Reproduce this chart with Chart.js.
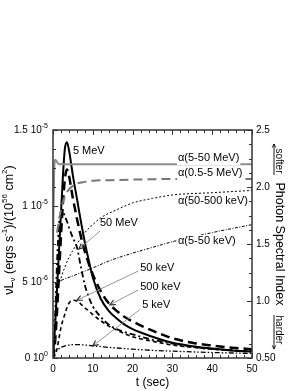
<!DOCTYPE html>
<html>
<head>
<meta charset="utf-8">
<script src="https://cdn.jsdelivr.net/npm/chart.js@4.4.0/dist/chart.umd.min.js"></script>
<style>
  html, body { margin: 0; padding: 0; background: #fff; }
</style>
</head>
<body>
<canvas id="grb" width="299" height="391"></canvas>
<script>
// time grid (sec) for the light curves
const tLight = [0, 0.5, 1, 1.5, 2, 2.5, 3, 3.5, 4, 5, 6, 7, 8, 9, 10, 12, 14, 16, 18, 20, 25, 30, 35, 40, 45, 50];

// nuLnu, in units of 1e-5 ergs s^-1 / (1e56 cm^2)
const lc5MeV   = [0, 0.2, 0.45, 0.7, 0.95, 1.2, 1.38, 1.42, 1.37, 1.2, 1.05, 0.9, 0.76, 0.64, 0.53, 0.39, 0.31, 0.26, 0.22, 0.19, 0.14, 0.1, 0.078, 0.062, 0.05, 0.042];
const lc500keV = [0, 0.1, 0.3, 0.55, 0.8, 1.02, 1.18, 1.24, 1.2, 1.05, 0.92, 0.8, 0.7, 0.62, 0.55, 0.44, 0.36, 0.31, 0.27, 0.24, 0.18, 0.13, 0.1, 0.082, 0.068, 0.058];
const lc50MeV  = [0, 0.25, 0.62, 0.88, 0.95, 0.96, 0.93, 0.9, 0.86, 0.79, 0.73, 0.6, 0.48, 0.4, 0.34, 0.27, 0.22, 0.19, 0.17, 0.155, 0.12, 0.095, 0.075, 0.06, 0.05, 0.042];
const lc50keV  = [0, 0.02, 0.06, 0.13, 0.2, 0.25, 0.29, 0.33, 0.36, 0.38, 0.375, 0.355, 0.33, 0.31, 0.285, 0.245, 0.21, 0.185, 0.16, 0.14, 0.11, 0.085, 0.07, 0.058, 0.05, 0.045];
const lc5keV   = [0, 0.03, 0.05, 0.06, 0.07, 0.075, 0.08, 0.083, 0.085, 0.088, 0.088, 0.087, 0.085, 0.083, 0.08, 0.075, 0.07, 0.066, 0.062, 0.058, 0.05, 0.045, 0.04, 0.036, 0.033, 0.03];

// photon spectral index curves (right axis)
const tAlpha5_50MeV  = [0, 0.3, 0.6, 1, 1.5, 2, 3, 5, 10, 20, 30, 40, 50];
const alpha5_50MeV   = [1.5, 2.15, 2.24, 2.22, 2.2, 2.2, 2.2, 2.2, 2.2, 2.2, 2.2, 2.2, 2.2];
const tAlpha05_5MeV  = [1, 2, 3, 4, 5, 6, 8, 10, 15, 20, 30, 40, 50];
const alpha05_5MeV   = [1.6, 1.8, 1.92, 1.98, 2.01, 2.03, 2.045, 2.055, 2.06, 2.065, 2.07, 2.07, 2.07];
const tAlpha50_500keV = [1, 2, 3, 4, 6, 8, 10, 12, 16, 20, 25, 30, 40, 50];
const alpha50_500keV  = [1.1, 1.2, 1.3, 1.38, 1.5, 1.6, 1.67, 1.73, 1.8, 1.86, 1.9, 1.93, 1.95, 1.97];
const tAlpha5_50keV  = [0.5, 2, 5, 10, 14, 20, 24, 30, 35, 40, 50];
const alpha5_50keV   = [1.15, 1.18, 1.22, 1.29, 1.35, 1.42, 1.46, 1.52, 1.56, 1.6, 1.67];

// tick labels
const leftTickValues = [0, 0.5, 1, 1.5];
const leftTickMant = ['0 10', '5 10', '1 10', '1.5 10'];
const leftTickExp = ['0', '-6', '-5', '-5'];

const FONT = "'Liberation Sans', Arial, Helvetica, sans-serif";
Chart.defaults.font.family = FONT;
Chart.defaults.color = '#000';

function pts(ts, vs) {
    return ts.map((t, i) => ({x: t, y: vs[i]}));
}

function series(data, axis, color, width, dash) {
    return {
        data: data,
        yAxisID: axis,
        borderColor: color,
        borderWidth: width,
        borderDash: dash,
        pointRadius: 0,
        fill: false,
        cubicInterpolationMode: 'monotone'
    };
}

// labels placed in data coordinates: [text, t, value, axis, pointer from, pointer to, white box]
const notes = [
    ['5 MeV',   5.0, 1.36, 'y', null, null, false],
    ['50 MeV',  11.8, 0.89, 'y', [11.8, 0.835], [6.5, 0.717], false],
    ['50 keV',  21.9, 0.59, 'y', [21.4, 0.572], [6.0, 0.38], false],
    ['500 keV', 21.9, 0.467, 'y', [21.4, 0.447], [14.3, 0.35], false],
    ['5 keV',   22.4, 0.35, 'y', [21.9, 0.32], [10, 0.08], false],
    ['\u03b1(5-50 MeV)',   31.4, 2.254, 'y2', null, null, true],
    ['\u03b1(0.5-5 MeV)',  31.4, 2.12, 'y2', null, null, true],
    ['\u03b1(50-500 keV)', 31.4, 1.877, 'y2', null, null, true],
    ['\u03b1(5-50 keV)',   31.4, 1.526, 'y2', null, null, true]
];

function richText(ctx, parts, x, y, align) {
    let w = 0;
    parts.forEach(p => { ctx.font = p[1] + 'px ' + FONT; w += ctx.measureText(p[0]).width; });
    let cx = align === 'right' ? x - w : (align === 'center' ? x - w / 2 : x);
    ctx.textAlign = 'left';
    ctx.textBaseline = 'middle';
    parts.forEach(p => {
        ctx.font = p[1] + 'px ' + FONT;
        ctx.fillText(p[0], cx, y + p[2]);
        cx += ctx.measureText(p[0]).width;
    });
}

function arrowHead(ctx, x1, y1, x2, y2, len) {
    const ang = Math.atan2(y2 - y1, x2 - x1);
    ctx.beginPath();
    ctx.moveTo(x2 - len * Math.cos(ang - 0.45), y2 - len * Math.sin(ang - 0.45));
    ctx.lineTo(x2, y2);
    ctx.lineTo(x2 - len * Math.cos(ang + 0.45), y2 - len * Math.sin(ang + 0.45));
    ctx.stroke();
}

const decorations = {
    id: 'decorations',
    afterDatasetsDraw(chart) {
        const {ctx, chartArea: a, scales} = chart;
        ctx.save();

        // labels and pointers
        notes.forEach(n => {
            const sy = scales[n[3]];
            const x = scales.x.getPixelForValue(n[1]);
            const y = sy.getPixelForValue(n[2]);
            ctx.font = '11px ' + FONT;
            const w = ctx.measureText(n[0]).width;
            if (n[6]) {
                ctx.fillStyle = '#fff';
                ctx.fillRect(x - 1, y - 6, w + 2, 13);
            }
            ctx.fillStyle = '#000';
            ctx.textAlign = 'left';
            ctx.textBaseline = 'middle';
            ctx.fillText(n[0], x, y);
            if (n[4]) {
                const x1 = scales.x.getPixelForValue(n[4][0]), y1 = sy.getPixelForValue(n[4][1]);
                const x2 = scales.x.getPixelForValue(n[5][0]), y2 = sy.getPixelForValue(n[5][1]);
                ctx.strokeStyle = '#8a8a8a';
                ctx.lineWidth = 0.9;
                ctx.beginPath();
                ctx.moveTo(x1, y1);
                ctx.lineTo(x2, y2);
                ctx.stroke();
                ctx.strokeStyle = '#333';
                ctx.lineWidth = 1.2;
                arrowHead(ctx, x1, y1, x2, y2, 6);
            }
        });

        // frame
        ctx.strokeStyle = '#333';
        ctx.lineWidth = 1.5;
        ctx.strokeRect(a.left, a.top, a.right - a.left, a.bottom - a.top);

        // inward ticks
        ctx.lineWidth = 1;
        ctx.beginPath();
        for (let t = 0; t <= 50; t += 2) {
            const px = Math.round(scales.x.getPixelForValue(t)) + 0.5;
            const len = t % 10 === 0 ? 5 : 3;
            ctx.moveTo(px, a.bottom); ctx.lineTo(px, a.bottom - len);
            ctx.moveTo(px, a.top); ctx.lineTo(px, a.top + len);
        }
        for (let i = 0; i <= 12; i++) {
            const py = Math.round(scales.y.getPixelForValue(i * 0.125)) + 0.5;
            ctx.moveTo(a.left, py); ctx.lineTo(a.left + (i % 4 === 0 ? 5 : 3), py);
        }
        for (let i = 0; i <= 16; i++) {
            const py = Math.round(scales.y2.getPixelForValue(0.5 + i * 0.125)) + 0.5;
            ctx.moveTo(a.right, py); ctx.lineTo(a.right - (i % 4 === 0 ? 5 : 3), py);
        }
        ctx.stroke();

        // left tick labels with exponents
        ctx.fillStyle = '#000';
        leftTickValues.forEach((v, i) => {
            const py = scales.y.getPixelForValue(v);
            richText(ctx, [[leftTickMant[i], 10, 0], [leftTickExp[i], 7, -4]], a.left - 5, py, 'right');
        });

        // left axis title
        ctx.save();
        ctx.translate(10, 230);
        ctx.rotate(-Math.PI / 2);
        richText(ctx, [
            ['\u03bdL', 12.5, 0], ['\u03bd', 8, 3], [' (ergs s', 12.5, 0], ['-1', 8, -5],
            [')/(10', 12.5, 0], ['56', 8, -5], [' cm', 12.5, 0], ['2', 8, -5], [')', 12.5, 0]
        ], 0, 0, 'center');
        ctx.restore();

        // right axis title with softer / harder arrows
        ctx.save();
        ctx.translate(279, 244);
        ctx.rotate(Math.PI / 2);
        richText(ctx, [['Photon Spectral Index', 12.5, 0]], 0, 0, 'center');
        richText(ctx, [['softer', 10, 0]], -83, 0, 'center');
        richText(ctx, [['harder', 10, 0]], 86, 0, 'center');
        ctx.strokeStyle = '#000';
        ctx.lineWidth = 0.9;
        ctx.beginPath();
        ctx.moveTo(-69, 5); ctx.lineTo(-100, 5);
        ctx.moveTo(71, 5); ctx.lineTo(105, 5);
        ctx.stroke();
        arrowHead(ctx, -69, 5, -100, 5, 4);
        arrowHead(ctx, 71, 5, 105, 5, 4);
        ctx.restore();

        ctx.restore();
    }
};

new Chart(document.getElementById('grb').getContext('2d'), {
    type: 'line',
    data: {
        datasets: [
            series(pts(tAlpha5_50MeV, alpha5_50MeV), 'y2', '#8c8c8c', 2, []),
            series(pts(tAlpha05_5MeV, alpha05_5MeV), 'y2', '#777', 2, [9, 5]),
            series(pts(tAlpha50_500keV, alpha50_500keV), 'y2', '#000', 1, [2, 2]),
            series(pts(tAlpha5_50keV, alpha5_50keV), 'y2', '#000', 1, [3, 1.5, 1, 1.5]),
            series(pts(tLight, lc5keV), 'y', '#000', 1.3, [5, 2, 1.5, 2, 1.5, 2]),
            series(pts(tLight, lc50keV), 'y', '#000', 1.6, [4, 3]),
            series(pts(tLight, lc50MeV), 'y', '#000', 1.8, [6, 3, 2, 3]),
            series(pts(tLight, lc500keV), 'y', '#000', 2.5, [9, 5]),
            series(pts(tLight, lc5MeV), 'y', '#000', 2, [])
        ]
    },
    options: {
        responsive: false,
        animation: false,
        layout: { padding: { top: 130, left: 0, right: 0, bottom: 0 } },
        plugins: { legend: { display: false }, tooltip: { enabled: false } },
        scales: {
            x: {
                type: 'linear',
                min: 0,
                max: 50,
                grid: { display: false, drawTicks: false },
                border: { display: false },
                ticks: { stepSize: 10, font: { size: 10 }, padding: 5, maxRotation: 0 },
                title: { display: true, text: 't (sec)', font: { size: 12 }, padding: { top: 0, bottom: 1 } },
                afterFit: s => { s.height = 33; }
            },
            y: {
                position: 'left',
                min: 0,
                max: 1.5,
                grid: { display: false, drawTicks: false },
                border: { display: false },
                ticks: { display: false },
                afterFit: s => { s.width = 53; }
            },
            y2: {
                position: 'right',
                min: 0.5,
                max: 2.5,
                grid: { display: false, drawTicks: false },
                border: { display: false },
                ticks: {
                    stepSize: 0.5,
                    font: { size: 10 },
                    padding: 4,
                    callback: v => v === 0.5 ? '0.50' : v.toFixed(1)
                },
                afterFit: s => { s.width = 47; }
            }
        }
    },
    plugins: [decorations]
});
</script>
</body>
</html>
